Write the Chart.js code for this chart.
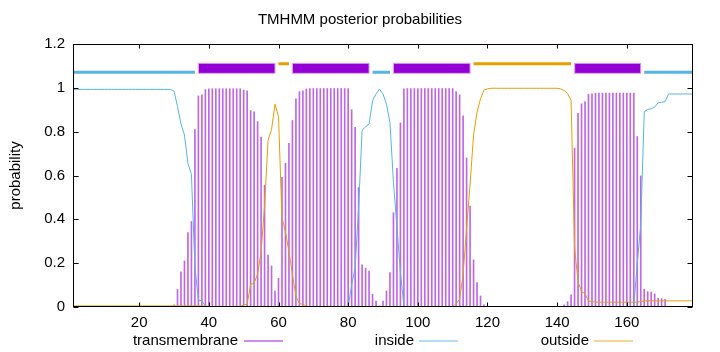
<!DOCTYPE html>
<html><head><meta charset="utf-8">
<script src="https://cdn.jsdelivr.net/npm/chart.js@4/dist/chart.umd.min.js"></script>
<style>html,body{margin:0;padding:0;background:#fff}#wrap{width:720px;height:352px;position:relative}</style>
</head><body><div id="wrap"><canvas id="c"></canvas></div>
<script>
const chartTitle = 'TMHMM posterior probabilities';
const yTitle = 'probability';
const seriesNames = ['transmembrane', 'inside', 'outside'];
const xTicks = [20, 40, 60, 80, 100, 120, 140, 160];
const yTicks = [0, 0.2, 0.4, 0.6, 0.8, 1, 1.2];
const xMin = 1, xMax = 179;

// posterior probabilities per residue 1..179
const tm = [
0.002,0.002,0.002,0.002,0.002,0.002,0.002,0.002,0.002,0.002,
0.002,0.002,0.002,0.002,0.002,0.002,0.002,0.002,0.002,0.002,
0.002,0.002,0.002,0.002,0.002,0.002,0.002,0.002,0.002,0.01,
0.08,0.16,0.21,0.34,0.39,0.81,0.963,0.968,0.992,0.996,
0.996,0.996,0.996,0.996,0.996,0.996,0.996,0.996,0.996,0.99,
0.986,0.896,0.89,0.846,0.775,0.556,0.237,0.187,0.073,0.131,
0.592,0.656,0.747,0.851,0.95,0.983,0.986,0.995,0.997,0.997,
0.997,0.997,0.997,0.997,0.997,0.997,0.997,0.997,0.997,0.997,
0.9,0.82,0.545,0.192,0.177,0.164,0.058,0.027,0.005,0.027,
0.073,0.157,0.43,0.633,0.84,0.995,0.997,0.997,0.997,0.997,
0.997,0.997,0.997,0.997,0.997,0.997,0.997,0.997,0.997,0.997,
0.983,0.968,0.872,0.68,0.461,0.215,0.111,0.05,0.01,0.005,
0.001,0.001,0.001,0.001,0.001,0.001,0.001,0.001,0.001,0.001,
0.001,0.001,0.001,0.001,0.001,0.001,0.001,0.001,0.001,0.001,
0.003,0.01,0.024,0.055,0.725,0.884,0.927,0.937,0.971,0.973,
0.976,0.976,0.976,0.976,0.976,0.976,0.976,0.976,0.976,0.976,
0.976,0.976,0.778,0.598,0.081,0.07,0.068,0.06,0.04,0.038,
0.035,0,0,0,0,0,0,0,0
];
const inside = [
0.993,0.993,0.993,0.993,0.993,0.993,0.993,0.993,0.993,0.993,
0.993,0.993,0.993,0.993,0.993,0.993,0.993,0.993,0.993,0.993,
0.993,0.993,0.993,0.993,0.993,0.993,0.993,0.993,0.993,0.985,
0.915,0.835,0.785,0.655,0.605,0.185,0.032,0.027,0.004,0.001,
0.001,0.001,0.001,0.001,0.001,0.001,0.001,0.001,0.001,0.001,
0.001,0.001,0.001,0.001,0.001,0.001,0.001,0.001,0.001,0.001,
0.001,0.001,0.001,0.001,0.001,0.001,0.002,0.001,0.001,0.001,
0.001,0.001,0.001,0.001,0.001,0.001,0.001,0.001,0.001,0.001,
0.099,0.179,0.454,0.807,0.822,0.835,0.941,0.972,0.994,0.972,
0.926,0.842,0.569,0.366,0.159,0.004,0.001,0.001,0.001,0.001,
0.001,0.001,0.001,0.001,0.001,0.001,0.001,0.001,0.001,0.001,
0.001,0.001,0.001,0.001,0.001,0.001,0.001,0.001,0.001,0.001,
0.001,0.001,0.001,0.001,0.001,0.001,0.001,0.001,0.001,0.001,
0.001,0.001,0.001,0.001,0.001,0.001,0.001,0.001,0.001,0.001,
0.002,0.002,0.002,0.002,0.002,0.002,0.002,0.002,0.002,0.002,
0.002,0.002,0.002,0.002,0.002,0.002,0.002,0.002,0.002,0.002,
0.002,0.002,0.2,0.377,0.891,0.902,0.904,0.912,0.932,0.934,
0.937,0.972,0.972,0.972,0.972,0.972,0.972,0.972,0.972
];
const outside = [
0.005,0.005,0.005,0.005,0.005,0.005,0.005,0.005,0.005,0.005,
0.005,0.005,0.005,0.005,0.005,0.005,0.005,0.005,0.005,0.005,
0.005,0.005,0.005,0.005,0.005,0.005,0.005,0.005,0.005,0.005,
0.005,0.005,0.005,0.005,0.005,0.005,0.005,0.005,0.004,0.003,
0.003,0.003,0.003,0.003,0.003,0.003,0.003,0.003,0.003,0.009,
0.013,0.103,0.109,0.15,0.25,0.46,0.76,0.81,0.925,0.868,
0.407,0.343,0.252,0.148,0.049,0.016,0.012,0.004,0.002,0.002,
0.002,0.002,0.002,0.002,0.002,0.002,0.002,0.002,0.002,0.002,
0.001,0.001,0.001,0.001,0.001,0.001,0.001,0.001,0.001,0.001,
0.001,0.001,0.001,0.001,0.001,0.001,0.002,0.002,0.002,0.002,
0.002,0.002,0.002,0.002,0.002,0.002,0.002,0.002,0.002,0.002,
0.016,0.035,0.15,0.36,0.56,0.785,0.889,0.95,0.99,0.995,
0.998,0.998,0.998,0.998,0.998,0.998,0.998,0.998,0.998,0.998,
0.998,0.998,0.998,0.998,0.998,0.998,0.998,0.998,0.998,0.998,
0.995,0.988,0.974,0.943,0.273,0.114,0.071,0.061,0.027,0.025,
0.022,0.022,0.022,0.022,0.022,0.022,0.022,0.022,0.022,0.022,
0.022,0.022,0.022,0.025,0.028,0.028,0.028,0.028,0.028,0.028,
0.028,0.028,0.028,0.028,0.028,0.028,0.028,0.028,0.028
];

// predicted topology (residue ranges)
const insideSegs = [[1, 36], [87, 92], [165, 179]];
const tmSegs = [[37, 59], [64, 86], [93, 115], [145, 164]];
const outsideSegs = [[60, 63], [116, 144]];
const insideLevel = 1.071, outsideLevel = 1.11, tmBoxLow = 1.066, tmBoxHigh = 1.112;

const FONT = 'Liberation Sans, Arial, Helvetica, sans-serif';
const FS = 15;
const C_TM = '#9400d3', C_IN = '#56b4e9', C_OUT = '#e69f00';

function series(arr) { return arr.map((v, i) => ({ x: i + 1, y: v })); }
function segPoints(segs, level) {
  const pts = [];
  segs.forEach(([a, b]) => { pts.push({ x: a, y: level }, { x: b, y: level }, { x: b, y: null }); });
  return pts;
}

const datasets = [
  { type: 'line', label: seriesNames[1], data: series(inside), borderColor: C_IN, borderWidth: 1, pointRadius: 0, tension: 0, order: 1 },
  { type: 'line', label: seriesNames[2], data: series(outside), borderColor: C_OUT, borderWidth: 1, pointRadius: 0, tension: 0, order: 1 },
  { type: 'bar', label: seriesNames[0], data: series(tm), backgroundColor: 'rgba(148,0,211,0.6)', barThickness: 1, order: 3 },
  { type: 'line', label: 'inside-seg', data: segPoints(insideSegs, insideLevel), borderColor: C_IN, borderWidth: 3, pointRadius: 0, spanGaps: false, order: 0 },
  { type: 'line', label: 'outside-seg', data: segPoints(outsideSegs, outsideLevel), borderColor: C_OUT, borderWidth: 3, pointRadius: 0, spanGaps: false, order: 0 }
];
tmSegs.forEach(([a, b]) => {
  datasets.push({ type: 'line', label: 'tm-seg', data: [
      { x: a, y: tmBoxLow }, { x: b, y: tmBoxLow }, { x: b, y: tmBoxHigh }, { x: a, y: tmBoxHigh }, { x: a, y: tmBoxLow }],
    borderColor: '#dba6f0', backgroundColor: C_TM, borderWidth: 1, pointRadius: 0, fill: 'shape', order: 0 });
});

const framePlugin = {
  id: 'frame',
  afterDatasetsDraw(chart) {
    const { ctx, chartArea: a, scales: { x, y } } = chart;
    ctx.save();
    ctx.strokeStyle = '#000';
    ctx.lineWidth = 1;
    const L = Math.round(a.left) + 0.5, R = Math.round(a.right) - 0.5, T = Math.round(a.top) + 0.5, B = Math.round(a.bottom) - 0.5;
    ctx.strokeRect(L, T, R - L, B - T);
    ctx.beginPath();
    xTicks.forEach(v => {
      const px = Math.round(x.getPixelForValue(v)) + 0.5;
      ctx.moveTo(px, B); ctx.lineTo(px, B - 4);
      ctx.moveTo(px, T); ctx.lineTo(px, T + 4);
    });
    yTicks.forEach(v => {
      const py = Math.round(y.getPixelForValue(v)) + 0.5;
      ctx.moveTo(L, py); ctx.lineTo(L + 5, py);
      ctx.moveTo(R, py); ctx.lineTo(R - 5, py);
    });
    ctx.stroke();
    ctx.restore();
  },
  afterDraw(chart) {
    const { ctx } = chart;
    const items = [
      { name: seriesNames[0], color: 'rgba(148,0,211,0.6)', textRight: 238, sample: [244, 283] },
      { name: seriesNames[1], color: 'rgba(86,180,233,0.6)', textRight: 414, sample: [419, 458] },
      { name: seriesNames[2], color: 'rgba(230,159,0,0.55)', textRight: 589, sample: [594, 633] }
    ];
    ctx.save();
    ctx.font = FS + 'px ' + FONT;
    ctx.fillStyle = '#000';
    ctx.textAlign = 'right';
    ctx.textBaseline = 'middle';
    items.forEach(it => {
      ctx.fillText(it.name, it.textRight, 341);
      ctx.strokeStyle = it.color;
      ctx.lineWidth = 1.5;
      ctx.beginPath();
      ctx.moveTo(it.sample[0], 341); ctx.lineTo(it.sample[1], 341);
      ctx.stroke();
    });
    ctx.restore();
  }
};

new Chart(document.getElementById('c'), {
  data: { datasets },
  options: {
    responsive: true, maintainAspectRatio: false, animation: false,
    layout: { padding: { left: 0, right: 0, top: 0, bottom: 0 } },
    plugins: {
      legend: { display: false },
      tooltip: { enabled: false },
      title: { display: true, text: chartTitle, color: '#000', font: { family: FONT, size: FS, weight: 'normal' }, padding: { top: 11, bottom: 15 } }
    },
    scales: {
      x: {
        type: 'linear', min: xMin, max: xMax, offset: false,
        grid: { display: false, drawTicks: false }, border: { display: false },
        ticks: { color: '#000', font: { family: FONT, size: FS }, padding: 7, maxRotation: 0, autoSkip: false },
        afterBuildTicks: s => { s.ticks = xTicks.map(v => ({ value: v })); },
        afterFit: s => { s.height = 45; }
      },
      y: {
        type: 'linear', min: 0, max: 1.2,
        grid: { display: false, drawTicks: false }, border: { display: false },
        ticks: { color: '#000', font: { family: FONT, size: FS }, padding: 8, callback: v => String(v) },
        afterBuildTicks: s => { s.ticks = yTicks.map(v => ({ value: v })); },
        afterFit: s => { s.width = 73; },
        title: { display: true, text: yTitle, color: '#000', font: { family: FONT, size: FS }, padding: { top: 7, bottom: 0 } }
      },
      yRight: {
        type: 'linear', position: 'right', display: true, min: 0, max: 1.2,
        grid: { display: false, drawTicks: false }, border: { display: false },
        ticks: { display: false },
        afterFit: s => { s.width = 27; }
      }
    }
  },
  plugins: [framePlugin]
});
</script>
</body></html>
